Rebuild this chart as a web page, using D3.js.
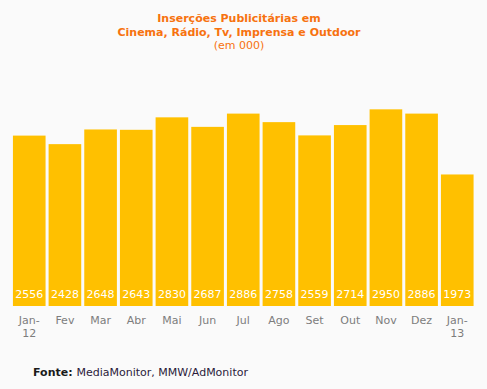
<!DOCTYPE html>
<html>
<head>
<meta charset="utf-8">
<script src="https://cdn.jsdelivr.net/npm/d3@7"></script>
<style>
  body { margin: 0; background: #fafafa; }
  text { font-family: "DejaVu Sans", Verdana, sans-serif; }
</style>
</head>
<body>
<script>
// Width and height of the svg
var w = 487;
var h = 389;

// Months (second line of label, if any) and values (em 000)
var meses = ["Jan-", "Fev", "Mar", "Abr", "Mai", "Jun", "Jul", "Ago", "Set", "Out", "Nov", "Dez", "Jan-"];
var anos = ["12", "", "", "", "", "", "", "", "", "", "", "", "13"];
var insercoes = [2556, 2428, 2648, 2643, 2830, 2687, 2886, 2758, 2559, 2714, 2950, 2886, 1973];

var titulo = ["Inserções Publicitárias em", "Cinema, Rádio, Tv, Imprensa e Outdoor"];
var subtitulo = "(em 000)";

var svg = d3.select("body")
        .append("svg")
        .attr("width", w)
        .attr("height", h);

svg.append("rect")
    .attr("width", w)
    .attr("height", h)
    .attr("fill", "#fafafa");

// x band scale, one band per month
var x = d3.scaleBand()
        .domain(d3.range(insercoes.length))
        .range([11.5, 475])
        .paddingInner(0.085)
        .paddingOuter(0.04);

// y linear scale
var y = d3.scaleLinear()
        .domain([0, 3000])
        .range([306, 106]);

// Title lines
svg.selectAll("text.titulo")
    .data(titulo)
    .enter()
    .append("text")
    .attr("class", "titulo")
    .attr("x", 239)
    .attr("y", function(d, i) { return 22 + i * 14; })
    .attr("text-anchor", "middle")
    .attr("font-size", "11px")
    .attr("font-weight", "bold")
    .attr("fill", "#f7720f")
    .text(function(d) { return d; });

svg.append("text")
    .attr("x", 239)
    .attr("y", 49)
    .attr("text-anchor", "middle")
    .attr("font-size", "11px")
    .attr("fill", "#f7720f")
    .text(subtitulo);

// Bars
svg.selectAll("rect.bar")
    .data(insercoes)
    .enter()
    .append("rect")
    .attr("class", "bar")
    .attr("x", function(d, i) { return x(i); })
    .attr("y", function(d) { return y(d); })
    .attr("width", x.bandwidth())
    .attr("height", function(d) { return y(0) - y(d); })
    .attr("fill", "#ffc000");

// Value labels inside bars
svg.selectAll("text.valor")
    .data(insercoes)
    .enter()
    .append("text")
    .attr("class", "valor")
    .attr("x", function(d, i) { return x(i) + x.bandwidth() / 2; })
    .attr("y", 298)
    .attr("text-anchor", "middle")
    .attr("font-size", "11px")
    .attr("fill", "white")
    .text(function(d) { return d; });

// Month labels
var rotulos = svg.selectAll("text.mes")
    .data(meses)
    .enter()
    .append("text")
    .attr("class", "mes")
    .attr("text-anchor", "middle")
    .attr("font-size", "11px")
    .attr("fill", "#7d7d7d");

rotulos.append("tspan")
    .attr("x", function(d, i) { return x(i) + x.bandwidth() / 2; })
    .attr("y", 324)
    .text(function(d) { return d; });

rotulos.append("tspan")
    .attr("x", function(d, i) { return x(i) + x.bandwidth() / 2; })
    .attr("y", 337)
    .text(function(d, i) { return anos[i]; });

// Source
var fonte = svg.append("text")
    .attr("x", 33)
    .attr("y", 376)
    .attr("font-size", "11px")
    .attr("fill", "#1a1a1a");

fonte.append("tspan")
    .attr("font-weight", "bold")
    .text("Fonte: ");

fonte.append("tspan")
    .attr("fill", "#2a1a3a")
    .text("MediaMonitor, MMW/AdMonitor");
</script>
</body>
</html>
